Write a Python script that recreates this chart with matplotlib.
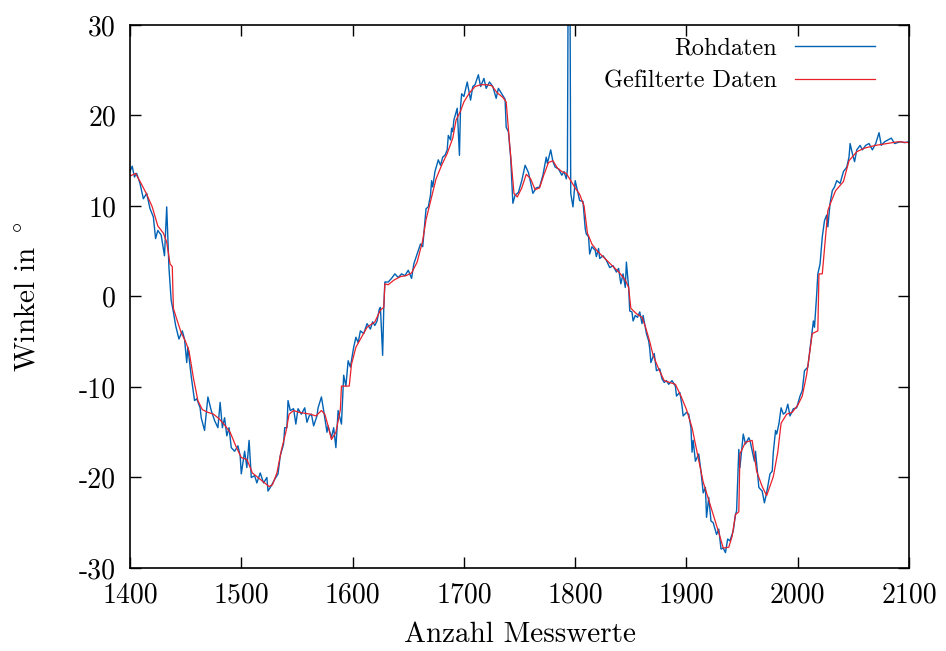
import matplotlib
matplotlib.use("Agg")
import matplotlib.pyplot as plt

plt.rcParams['font.family'] = ['cmr10', 'DejaVu Serif']
plt.rcParams['mathtext.fontset'] = 'cm'
plt.rcParams['axes.unicode_minus'] = False
plt.rcParams['axes.formatter.use_mathtext'] = False

# Rohdaten (sample index, angle)
raw_x = [1400, 1402, 1404, 1406, 1409, 1412, 1415, 1418, 1421, 1423, 1425, 1428, 1431, 1433,
         1435, 1437, 1439, 1441, 1444, 1447, 1449, 1451, 1452, 1455, 1458, 1460, 1463, 1464,
         1467, 1470, 1473, 1476, 1479, 1481, 1483, 1485, 1487, 1489, 1491, 1494, 1497, 1499,
         1500, 1503, 1505, 1507, 1509, 1512, 1514, 1517, 1520, 1523, 1524, 1527, 1530, 1533,
         1535, 1538, 1539, 1541, 1542, 1544, 1547, 1549, 1551, 1554, 1557, 1559, 1561, 1563,
         1565, 1568, 1569, 1572, 1574, 1577, 1578, 1581, 1583, 1585, 1587, 1590, 1592, 1594,
         1596, 1598, 1601, 1603, 1605, 1607, 1610, 1613, 1616, 1618, 1620, 1622, 1624, 1625,
         1627, 1628, 1629, 1632, 1635, 1638, 1641, 1644, 1647, 1650, 1653, 1655, 1658, 1661,
         1663, 1666, 1668, 1670, 1671, 1672, 1674, 1677, 1679, 1681, 1683, 1685, 1686, 1688,
         1689, 1690, 1691, 1694, 1696, 1697, 1698, 1700, 1703, 1706, 1708, 1710, 1713, 1715,
         1718, 1720, 1723, 1726, 1729, 1731, 1734, 1737, 1738, 1740, 1742, 1744, 1746, 1749,
         1752, 1755, 1758, 1762, 1765, 1768, 1771, 1774, 1775, 1778, 1780, 1782, 1785, 1788,
         1790, 1792, 1793, 1794, 1795, 1796, 1798, 1800, 1802, 1804, 1807, 1809, 1810, 1812,
         1813, 1815, 1818, 1819, 1821, 1822, 1825, 1828, 1831, 1834, 1837, 1839, 1841, 1843,
         1845, 1846, 1848, 1849, 1851, 1852, 1854, 1856, 1858, 1860, 1861, 1864, 1866, 1867,
         1868, 1871, 1873, 1876, 1878, 1880, 1882, 1884, 1887, 1890, 1891, 1894, 1896, 1897,
         1900, 1902, 1904, 1905, 1906, 1908, 1911, 1913, 1915, 1917, 1918, 1920, 1922, 1924,
         1927, 1929, 1931, 1933, 1935, 1937, 1939, 1942, 1944, 1945, 1947, 1948, 1951, 1953,
         1956, 1957, 1961, 1962, 1965, 1968, 1970, 1972, 1975, 1977, 1978, 1980, 1981, 1983,
         1985, 1987, 1989, 1991, 1993, 1996, 1999, 2002, 2004, 2006, 2009, 2012, 2014, 2015,
         2017, 2018, 2020, 2022, 2024, 2026, 2027, 2029, 2031, 2033, 2035, 2038, 2041, 2044,
         2046, 2047, 2049, 2051, 2053, 2056, 2058, 2061, 2064, 2067, 2070, 2073, 2075, 2078,
         2081, 2084, 2087, 2092, 2096, 2100]
raw_y = [13.8, 14.4, 13.2, 13.6, 12.5, 10.8, 11.4, 9.7, 8.8, 6.4, 7.3, 6.8, 4.5, 9.9,
         3.2, -0.4, -1.7, -3.2, -4.7, -3.8, -4.7, -7.3, -5.6, -8.8, -11.5, -11.3, -12.3, -13.4,
         -14.8, -11.1, -12.6, -13.7, -14.5, -11.7, -14.5, -13.4, -15.4, -14.5, -16.7, -17.1, -16.5, -17.6,
         -19.6, -17.1, -18.9, -15.9, -20.0, -19.8, -20.6, -19.5, -20.6, -20.0, -21.5, -20.9, -20.2, -19.6,
         -17.6, -16.3, -14.5, -14.5, -11.5, -12.6, -12.4, -14.1, -12.4, -13.0, -12.3, -13.9, -13.2, -13.0,
         -14.3, -13.2, -12.3, -11.1, -12.6, -15.0, -14.3, -15.6, -14.5, -16.7, -12.6, -14.1, -8.7, -9.9,
         -7.1, -7.8, -5.6, -4.5, -5.1, -3.8, -4.1, -3.0, -3.6, -2.8, -3.2, -2.7, -1.4, -1.2,
         -6.5, -1.4, 1.6, 1.6, 2.0, 2.5, 2.1, 2.5, 2.3, 2.9, 2.0, 3.6, 4.7, 5.8,
         5.5, 9.7, 9.9, 11.2, 12.8, 12.1, 13.8, 15.1, 14.5, 15.4, 15.6, 16.2, 17.8, 17.3,
         18.6, 18.2, 19.5, 20.8, 15.6, 21.0, 22.4, 22.1, 23.7, 21.7, 23.2, 23.4, 24.5, 23.2,
         24.1, 23.0, 23.7, 23.2, 21.9, 23.0, 22.4, 21.8, 18.7, 18.2, 15.4, 10.3, 11.2, 11.5,
         12.8, 14.5, 13.7, 11.4, 12.0, 12.1, 13.4, 15.4, 14.7, 16.2, 14.9, 14.3, 14.1, 13.4,
         13.8, 13.0, 14.0, 45.0, 45.0, 11.4, 9.9, 12.8, 11.7, 10.6, 10.5, 7.5, 6.9, 6.6,
         4.7, 5.5, 5.1, 4.4, 5.3, 4.2, 4.5, 4.0, 3.2, 3.4, 2.7, 3.1, 1.4, 2.5,
         1.0, 3.8, 1.0, -1.6, -1.7, -2.7, -2.1, -2.3, -1.7, -3.0, -2.1, -4.1, -4.9, -5.8,
         -7.3, -6.3, -8.2, -8.0, -9.1, -9.5, -9.3, -9.7, -9.3, -9.9, -11.0, -10.6, -12.1, -13.2,
         -12.8, -13.0, -14.5, -17.2, -15.9, -18.2, -17.4, -19.3, -21.7, -21.1, -24.4, -22.2, -24.8, -25.0,
         -26.3, -25.7, -27.9, -27.8, -28.3, -26.8, -27.0, -25.9, -24.1, -23.7, -16.9, -18.9, -15.2, -16.3,
         -15.6, -15.9, -18.2, -17.1, -21.1, -21.5, -22.8, -21.7, -19.6, -19.3, -17.2, -14.8, -15.2, -14.1,
         -12.3, -13.0, -12.8, -11.9, -13.2, -12.4, -12.3, -11.0, -10.4, -8.2, -7.8, -4.7, -2.7, -3.4,
         0.3, 2.5, 3.6, 6.6, 8.4, 9.0, 7.7, 10.3, 11.7, 12.1, 12.8, 12.5, 13.8, 14.3,
         15.4, 16.9, 15.8, 14.9, 16.2, 16.7, 16.2, 16.7, 16.9, 16.2, 16.9, 18.1, 16.7, 17.1,
         17.3, 17.5, 16.9, 17.1, 17.0, 17.1]

# Gefilterte Daten
filt_x = [1400, 1405, 1410, 1415, 1420, 1425, 1430, 1433, 1436, 1438, 1439, 1442, 1446, 1450,
          1453, 1457, 1461, 1465, 1470, 1475, 1480, 1485, 1490, 1495, 1500, 1505, 1510, 1515,
          1520, 1525, 1528, 1532, 1536, 1540, 1543, 1547, 1552, 1557, 1562, 1567, 1572, 1575,
          1578, 1581, 1585, 1589, 1590, 1597, 1599, 1603, 1608, 1613, 1620, 1625, 1628, 1629,
          1632, 1637, 1643, 1648, 1653, 1658, 1663, 1666, 1670, 1675, 1680, 1685, 1690, 1693,
          1697, 1700, 1705, 1710, 1715, 1720, 1725, 1730, 1735, 1738, 1741, 1745, 1748, 1752,
          1756, 1760, 1764, 1768, 1772, 1776, 1780, 1784, 1788, 1792, 1796, 1800, 1804, 1808,
          1811, 1815, 1820, 1825, 1830, 1835, 1840, 1845, 1848, 1850, 1855, 1860, 1863, 1867,
          1870, 1875, 1880, 1885, 1890, 1895, 1900, 1905, 1910, 1915, 1920, 1925, 1930, 1933,
          1938, 1941, 1944, 1947, 1948, 1953, 1959, 1963, 1968, 1972, 1978, 1982, 1985, 1990,
          1995, 2000, 2004, 2008, 2013, 2018, 2019, 2022, 2027, 2030, 2034, 2041, 2046, 2053,
          2060, 2070, 2080, 2090, 2100]
filt_y = [13.3, 13.6, 12.5, 11.3, 9.9, 7.8, 7.0, 6.0, 3.6, 3.3, -1.3, -2.5, -4.0, -5.0,
          -6.0, -9.0, -11.5, -12.5, -12.8, -13.0, -13.5, -14.2, -15.0, -16.5, -17.8, -18.0, -19.5, -20.0,
          -20.5, -21.0, -20.8, -19.5, -17.0, -15.0, -13.0, -12.6, -12.8, -12.9, -13.0, -13.2, -12.6, -13.0,
          -14.3, -15.8, -15.0, -12.5, -9.9, -9.9, -7.5, -5.6, -4.5, -3.4, -2.8, -1.5, -1.2, 1.4,
          1.3, 1.8, 2.2, 2.3, 2.6, 3.8, 6.2, 8.5, 10.5, 13.0, 14.5, 15.8, 17.5, 19.5,
          20.5, 21.5, 22.5, 23.2, 23.4, 23.4, 23.3, 22.5, 22.0, 21.5, 17.0, 11.4, 11.0, 12.0,
          13.5, 13.0, 11.8, 12.0, 13.5, 14.8, 15.0, 14.2, 13.8, 13.6, 12.8, 12.0, 11.3, 10.0,
          7.0, 5.8, 5.0, 4.4, 3.8, 3.2, 2.6, 1.8, 1.0, -1.3, -1.9, -2.3, -3.3, -5.0,
          -6.5, -8.0, -9.3, -9.5, -9.7, -11.0, -12.5, -14.5, -17.5, -20.5, -22.5, -24.5, -26.5, -27.8,
          -27.7, -26.5, -24.1, -23.8, -17.4, -16.1, -15.9, -19.3, -21.0, -22.0, -19.9, -17.2, -14.0, -13.0,
          -12.8, -12.0, -11.0, -8.6, -4.1, -3.8, 2.5, 2.5, 9.5, 10.5, 11.7, 12.7, 15.0, 16.0,
          16.4, 16.7, 16.9, 17.1, 17.0]

x_ticks = [1400, 1500, 1600, 1700, 1800, 1900, 2000, 2100]
y_ticks = [-30, -20, -10, 0, 10, 20, 30]

fig = plt.figure(figsize=(9.46, 6.51), dpi=100)
ax = fig.add_axes([0.1374, 0.1275, 0.8236, 0.8341])

ax.plot(raw_x, raw_y, color='#0062b4', lw=1.0, label='Rohdaten')
ax.plot(filt_x, filt_y, color='#e8202a', lw=0.9, label='Gefilterte Daten')

ax.set_xlim(1400, 2100)
ax.set_ylim(-30, 30)
ax.set_xticks(x_ticks)
ax.set_yticks(y_ticks)
ax.tick_params(direction='in', length=8, width=1, top=True, right=True,
               labelsize=20, pad=10)
for s in ax.spines.values():
    s.set_linewidth(1.2)

ax.set_xlabel('Anzahl Messwerte', fontsize=21, labelpad=10)
ax.set_ylabel(r'Winkel in $^\circ$', fontsize=21, labelpad=28)

ax.legend(loc='upper right', bbox_to_anchor=(0.9564, 0.978), frameon=False,
          markerfirst=False, fontsize=17.5, handlelength=3.3, handletextpad=0.75,
          borderaxespad=0, borderpad=0, labelspacing=0.48)

fig.savefig('out.png', dpi=100)
